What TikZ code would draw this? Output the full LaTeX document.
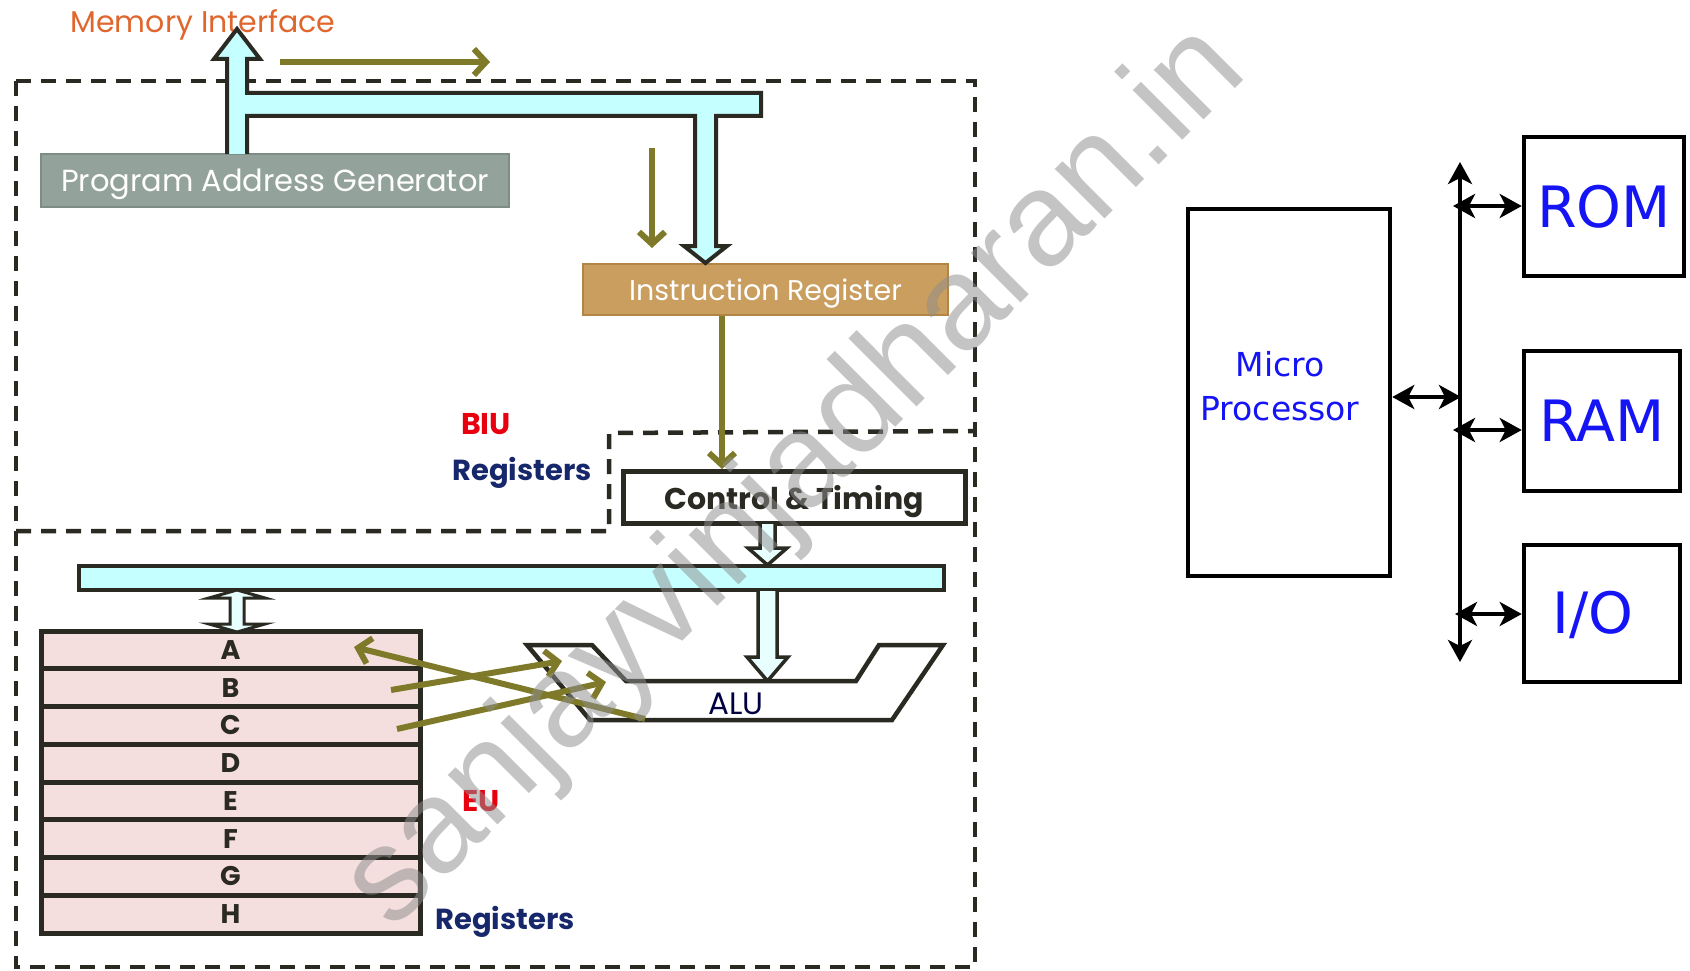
\documentclass[tikz,border=0pt]{standalone}
\usepackage{fontspec}
\setmainfont{Poppins}
\newfontfamily\rfont{DejaVu Sans}
\newfontfamily\wfont{Liberation Sans}
\usetikzlibrary{arrows.meta,calc}
\definecolor{olv}{HTML}{7E7A2A}
\definecolor{cyanfill}{HTML}{C6FFFF}
\definecolor{palecyan}{HTML}{E8FFFF}
\definecolor{dk}{HTML}{2B2A22}
\definecolor{pagfill}{HTML}{93A39C}
\definecolor{pagedge}{HTML}{7D8C85}
\definecolor{irfill}{HTML}{C99E5E}
\definecolor{iredge}{HTML}{B08545}
\definecolor{regfill}{HTML}{F5DEDE}
\definecolor{orng}{HTML}{E0662E}
\definecolor{biured}{HTML}{E8000F}
\definecolor{navy}{HTML}{16286B}
\definecolor{blu}{HTML}{1414F5}
\definecolor{wmgray}{HTML}{8F8F8F}
\newcommand{\fs}[1]{\fontsize{#1}{#1}\selectfont}
\begin{document}
\begin{tikzpicture}[x=1pt,y=-1pt,
  dashline/.style={draw=dk,line width=4.5pt,dash pattern=on 15pt off 10pt},
  busshape/.style={draw=dk,fill=cyanfill,line width=4pt,line join=miter},
  hollow/.style={draw=dk,fill=palecyan,line width=3.5pt,line join=miter},
  olivearrow/.style={draw=olv,line width=6pt,-{Straight Barb[length=12pt,width=26pt]}},
  blackarrow/.style={draw=black,line width=4.5pt,{Stealth[length=22pt,width=24pt,inset=6pt]}-{Stealth[length=22pt,width=24pt,inset=6pt]}},
  regbox/.style={draw=dk,fill=regfill,line width=5pt,minimum width=379pt,minimum height=37.75pt,inner sep=0pt,font=\fs{27}\bfseries,text=dk,text depth=0pt},
  boxr/.style={draw=black,line width=4.5pt,inner sep=0pt},
  txt/.style={inner sep=0pt,text depth=0pt}]
\useasboundingbox (0,0) rectangle (1690,971);
\fill[white] (0,0) rectangle (1690,971);

% dashed unit boundaries
\draw[dashline] (16,81) rectangle (975,967);
\draw[dashline] (16,531) -- (609,531) -- (609,433) -- (975,431);

% boxes
\node[fill=pagfill,draw=pagedge,line width=1.5pt,minimum width=468pt,minimum height=53pt,inner sep=0pt,text depth=0pt,text=white,font=\fs{30.5}] (PAG) at (275,180.5) {Program Address Generator};
\node[fill=irfill,draw=iredge,line width=1.5pt,minimum width=365pt,minimum height=51pt,inner sep=0pt,text depth=0pt,text=white,font=\fs{28.5}] (IR) at (765.5,289.5) {Instruction Register};
\node[draw=dk,fill=white,line width=5pt,minimum width=342pt,minimum height=52pt,inner sep=0pt,text depth=0pt,text=dk,font=\fs{30}\bfseries] (CT) at (794,497.5) {Control \& Timing};

% memory interface label
\node[txt,text=orng,font=\fs{30}] (MI) at (203,21) {Memory Interface};

% top bus with up arrow and down arrow to IR
\filldraw[busshape] (227,154) -- (227,59) -- (214,59) -- (237,29) -- (260,59) -- (247,59) -- (247,93)
  -- (761,93) -- (761,116) -- (716,116) -- (716,246) -- (727,246) -- (705.5,263) -- (684,246)
  -- (695,246) -- (695,116) -- (247,116) -- (247,154);

% olive arrows in BIU
\coordinate (o1s) at (280,62); \coordinate (o1e) at (490,62);
\draw[olivearrow] (o1s) -- (o1e);
\coordinate (o2s) at (652,148); \coordinate (o2e) at (652,248);
\draw[olivearrow] (o2s) -- (o2e);
\coordinate (cx) at (722,0);
\draw[olivearrow] (IR.south -| cx) -- (CT.north -| cx);

% labels
\node[txt,text=biured,font=\fs{30}\bfseries] (BIU) at (486,424) {BIU};
\node[txt,text=navy,font=\fs{29}\bfseries] (BR) at (522,469) {Registers};
\node[txt,text=biured,font=\fs{30}\bfseries] (EU) at (481,801) {EU};
\node[txt,text=navy,font=\fs{29}\bfseries] (ER) at (505,918) {Registers};

% lower bus
\filldraw[busshape] (79,566) rectangle (944,590);
% C&T -> bus
\filldraw[hollow] (760,524) -- (760,548) -- (748,548) -- (767.5,565) -- (787,548) -- (775,548) -- (775,524);
% bus -> ALU
\filldraw[hollow] (758,591) -- (758,657) -- (747,657) -- (767.5,681) -- (788,657) -- (777,657) -- (777,591);

% ALU
\filldraw[draw=dk,fill=white,line width=4.5pt,line join=miter] (527,645) -- (592,645) -- (626,681) -- (856,681) -- (879,645) -- (943,645) -- (892,720) -- (590,720) -- cycle;
\node[txt,text=black!75!blue,font=\fs{31}] (ALU) at (736,704) {ALU};

% registers
\foreach \L [count=\k from 0] in {A,B,C,D,E,F,G,H}{
  \node[regbox] (r\L) at (230.5,{631+18.875+37.75*\k}) {\L};
}
% double arrow bus <-> registers
\filldraw[hollow,line width=3pt] (230,598) -- (209,598) -- (237,590) -- (265,598) -- (244,598) -- (244,624) -- (265,624) -- (237,632) -- (209,624) -- (230,624) -- cycle;

% olive crossing arrows
\coordinate (a1s) at (645,719); \coordinate (a1e) at (354,647);
\coordinate (a2s) at (391,690); \coordinate (a2e) at (562,661);
\coordinate (a3s) at (397,729); \coordinate (a3e) at (606,682);
\draw[olivearrow] (a1s) -- (a1e);
\draw[olivearrow] (a2s) -- (a2e);
\draw[olivearrow] (a3s) -- (a3e);

% right side: microprocessor system
\node[boxr,minimum width=202pt,minimum height=367pt] (MP) at (1289,392.5) {};
\node[txt,text=blu,font=\rfont\fs{33},align=center] (MPt) at (1280,386) {Micro\\[11pt]Processor};
\node[boxr,minimum width=160pt,minimum height=139pt,text=blu,font=\rfont\fs{57}] (ROM) at (1604,206.5) {ROM};
\node[boxr,minimum width=156pt,minimum height=140pt,text=blu,font=\rfont\fs{57}] (RAM) at (1602,421) {RAM};
\node[boxr,minimum width=156pt,minimum height=137pt,inner sep=0pt] (IO) at (1602,613.5) {};
\node[txt,text=blu,font=\rfont\fs{57}] (IOt) at (1593,612) {I/O};
\coordinate (btop) at (1460,162);
\coordinate (bbot) at (1460,662);
\draw[blackarrow] (btop) -- (bbot);
\coordinate (jrom) at (1453,206);
\coordinate (jram) at (1453,430);
\coordinate (jio) at (1455,614);
\coordinate (jmp) at (1461,397);
\draw[blackarrow] (jrom) -- (jrom -| ROM.west);
\draw[blackarrow] (jram) -- (jram -| RAM.west);
\draw[blackarrow] (jio) -- (jio -| IO.west);
\draw[blackarrow] (jmp -| MP.east) -- (jmp);

% watermark
\node[inner sep=0pt,rotate=45,text=wmgray,text opacity=0.52,font=\wfont\fs{133}] (wm) at (797,478) {sanjayvinjadharan.in};
\end{tikzpicture}
\end{document}
